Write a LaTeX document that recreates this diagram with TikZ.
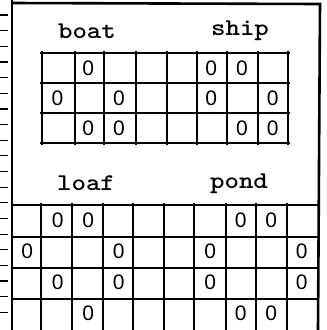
\documentclass[tikz,border=0pt]{standalone}
\usepackage{fontspec}
\newfontfamily\cellfont{Liberation Sans}
\usetikzlibrary{positioning}

\begin{document}
\begin{tikzpicture}[
    x=1pt, y=-1pt,
    frame/.style={line width=2.6pt},
    gline/.style={line width=1.6pt},
    tick/.style={line width=1.2pt},
    wordlbl/.style={font=\ttfamily\bfseries\fontsize{24}{24}\selectfont, xscale=1.15, inner sep=0pt},
    zero/.style={font=\cellfont\fontsize{21}{21}\selectfont, inner sep=0pt},
  ]
  \useasboundingbox (0,0) rectangle (327,330);

  % frame and ruler marks
  \draw[frame] (12,0) -- (12,330);
  \draw[frame] (11,3) -- (320,4) -- (318,330);
  \foreach \k in {0,...,19}
    \draw[tick] (0,{15+15.65*\k}) -- (8,{15+15.65*\k});

  % upper table: boat and ship
  \foreach \yy in {53,83,113,143}
    \draw[gline] (40,\yy) -- (290,\yy);
  \foreach \xx in {42,75,104,136,167,197,227,258,288}
    \draw[gline] (\xx,51) -- (\xx,145);

  \node[wordlbl] (boat) at (87,31) {boat};
  \node[wordlbl] (ship) at (240,31) {ship};

  \foreach \c/\r in {2/1,1/2,3/2,2/3,3/3, 6/1,7/1,6/2,8/2,7/3,8/3}
    \node[zero] (t\c\r) at ({42+30.75*(\c-0.5)},{53+30*(\r-0.5)}) {0};

  % lower table: loaf and pond
  \foreach \yy in {205,237,268,299}
    \draw[gline] (12,\yy) -- (318,\yy);
  \foreach \xx in {41,72,103,133,164,194,226,256,287}
    \draw[gline] (\xx,203) -- (\xx,330);

  \node[wordlbl] (loaf) at (86,183) {loaf};
  \node[wordlbl] (pond) at (239,184) {pond};

  \foreach \c/\r in {2/1,3/1,1/2,4/2,2/3,4/3,3/4, 8/1,9/1,7/2,10/2,7/3,10/3,8/4,9/4}
    \node[zero] (b\c\r) at ({12+30.5*(\c-0.5)},{205+31*(\r-0.5)}) {0};
\end{tikzpicture}
\end{document}
